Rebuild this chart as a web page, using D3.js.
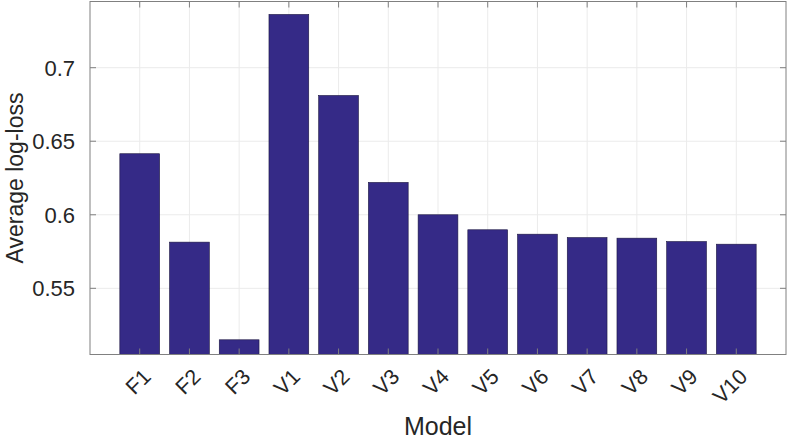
<!DOCTYPE html>
<html><head><meta charset="utf-8">
<script src="https://cdn.jsdelivr.net/npm/d3@7"></script>
<style>
html,body{margin:0;padding:0;background:#fff;}
svg text{font-family:"Liberation Sans",Arial,Helvetica,sans-serif;fill:#262626;}
</style></head>
<body><svg id="c" width="789" height="442"></svg>
<script>
const categories = ["F1","F2","F3","V1","V2","V3","V4","V5","V6","V7","V8","V9","V10"];
const values = [0.6415,0.5814,0.5150,0.7362,0.6811,0.6220,0.6000,0.5898,0.5868,0.5845,0.5841,0.5818,0.5800];
const yTicks = [0.55,0.6,0.65,0.7];
const yTickLabels = ["0.55","0.6","0.65","0.7"];
const xLabel = "Model";
const yLabel = "Average log-loss";

const svg = d3.select("#c");
const L = 90, R = 786, T = 1.5, B = 354.5;
const x = d3.scaleLinear().domain([0, categories.length + 1]).range([L, R]);
const y = d3.scaleLinear().domain([0.505, 0.745]).range([B, T]);
const bw = 0.8;

// grid
const g = svg.append("g");
g.selectAll(".vg").data(categories).enter().append("line")
  .attr("x1",(d,i)=>x(i+1)).attr("x2",(d,i)=>x(i+1))
  .attr("y1",T).attr("y2",B).attr("stroke","#ebebeb").attr("stroke-width",1);
g.selectAll(".hg").data(yTicks).enter().append("line")
  .attr("x1",L).attr("x2",R).attr("y1",d=>y(d)).attr("y2",d=>y(d))
  .attr("stroke","#ebebeb").attr("stroke-width",1);

// bars
svg.append("g").selectAll("rect").data(values).enter().append("rect")
  .attr("x",(d,i)=>x(i+1-bw/2)).attr("width",x(bw)-x(0))
  .attr("y",d=>y(d)).attr("height",d=>B-y(d))
  .attr("fill","#352a87").attr("stroke","#1c1640").attr("stroke-width",0.6);

// axes box
const axc = "#808080";
svg.append("rect").attr("x",L).attr("y",T).attr("width",R-L).attr("height",B-T)
  .attr("fill","none").attr("stroke",axc).attr("stroke-width",1);

// ticks (inward)
const tl = 6;
categories.forEach((c,i)=>{
  const xx = x(i+1);
  svg.append("line").attr("x1",xx).attr("x2",xx).attr("y1",B).attr("y2",B-tl).attr("stroke",axc);
  svg.append("line").attr("x1",xx).attr("x2",xx).attr("y1",T).attr("y2",T+tl).attr("stroke",axc);
});
yTicks.forEach(t=>{
  const yy = y(t);
  svg.append("line").attr("x1",L).attr("x2",L+tl).attr("y1",yy).attr("y2",yy).attr("stroke",axc);
  svg.append("line").attr("x1",R).attr("x2",R-tl).attr("y1",yy).attr("y2",yy).attr("stroke",axc);
});

// y tick labels
svg.append("g").selectAll("text").data(yTicks).enter().append("text")
  .attr("x",L-15).attr("y",d=>y(d)).attr("dy","0.36em")
  .attr("text-anchor","end").attr("font-size",22)
  .text((d,i)=>yTickLabels[i]);

// x tick labels rotated
svg.append("g").selectAll("text").data(categories).enter().append("text")
  .attr("transform",(d,i)=>`translate(${x(i+1)+12.5},${B+23.5}) rotate(-45)`)
  .attr("text-anchor","end").attr("font-size",21.5)
  .text(d=>d);

// axis labels
svg.append("text").attr("x",(L+R)/2).attr("y",435)
  .attr("text-anchor","middle").attr("font-size",25).text(xLabel);
svg.append("text").attr("transform",`translate(23,${(T+B)/2}) rotate(-90)`)
  .attr("text-anchor","middle").attr("font-size",23).text(yLabel);
</script></body></html>
